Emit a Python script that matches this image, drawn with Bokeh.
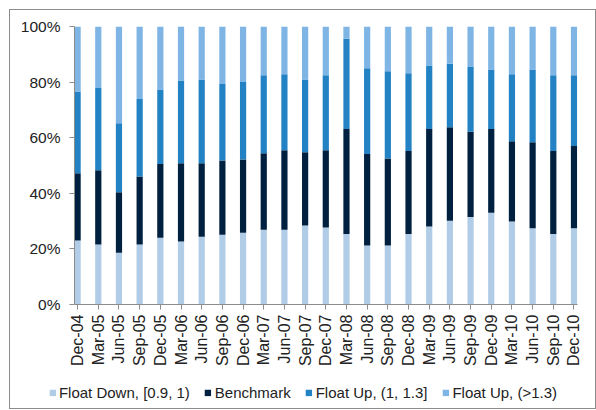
import math
from bokeh.plotting import figure
from bokeh.layouts import column, row
from bokeh.models import (Range1d, FixedTicker, PrintfTickFormatter,
                          Legend, LegendItem, ColumnDataSource)
from bokeh.embed import file_html
from bokeh.resources import INLINE

categories = ["Dec-04", "Mar-05", "Jun-05", "Sep-05", "Dec-05", "Mar-06", "Jun-06",
              "Sep-06", "Dec-06", "Mar-07", "Jun-07", "Sep-07", "Dec-07", "Mar-08",
              "Jun-08", "Sep-08", "Dec-08", "Mar-09", "Jun-09", "Sep-09", "Dec-09",
              "Mar-10", "Jun-10", "Sep-10", "Dec-10"]

# cumulative tops (%)
top_float_down = [23.0, 21.6, 18.6, 21.6, 24.0, 22.7, 24.4, 25.1, 25.8, 26.9, 26.9, 28.4, 27.7,
                  25.4, 21.2, 21.2, 25.4, 28.1, 30.1, 31.5, 33.0, 29.9, 27.4, 25.4, 27.4]
top_benchmark = [47.2, 48.3, 40.4, 46.0, 50.5, 50.8, 50.8, 51.8, 52.2, 54.4, 55.5, 54.8, 55.5,
                 63.1, 54.1, 52.5, 55.2, 63.1, 63.8, 62.1, 63.1, 58.7, 58.4, 55.2, 57.0]
top_float_up = [76.6, 77.9, 65.2, 73.9, 77.3, 80.6, 80.9, 79.3, 80.0, 82.5, 82.8, 80.9, 82.5,
                95.6, 85.0, 83.9, 83.2, 86.0, 86.6, 85.6, 84.5, 82.8, 84.5, 82.5, 82.5]

float_down = top_float_down
benchmark = [b - a for a, b in zip(top_float_down, top_benchmark)]
float_up = [c - b for b, c in zip(top_benchmark, top_float_up)]
float_up_high = [100 - c for c in top_float_up]

series_names = ["Float Down, [0.9, 1)", "Benchmark", "Float Up, (1, 1.3]", "Float Up, (>1.3)"]
colors = ["#B0CCE6", "#00203F", "#2282C4", "#7EB5E5"]
keys = ["fd", "bm", "fu", "fh"]

idx = list(range(len(categories)))
bar_x = [i + 0.15 for i in idx]
source = ColumnDataSource(data=dict(
    x=bar_x, fd=float_down, bm=benchmark, fu=float_up, fh=float_up_high))

AXIS = "#8c8c8c"
TXT = "#222222"
FONT = "Liberation Sans"

p = figure(width=585, height=366, x_range=Range1d(0, 24.32), y_range=Range1d(0, 100),
           output_backend="svg", toolbar_location=None,
           min_border_left=64, min_border_right=18, min_border_top=16, min_border_bottom=72)
p.outline_line_color = None
p.grid.visible = False

p.vbar_stack(keys, x="x", width=0.3, source=source, color=colors, line_width=0)

# y axis
ya = p.yaxis[0]
ya.ticker = FixedTicker(ticks=[0, 20, 40, 60, 80, 100])
ya.formatter = PrintfTickFormatter(format="%d%%")
ya.axis_line_color = AXIS
ya.major_tick_line_color = AXIS
ya.minor_tick_line_color = None
ya.major_tick_out = 5
ya.major_tick_in = 0
ya.major_label_standoff = 9
ya.major_label_text_font = FONT
ya.major_label_text_font_size = "15.5px"
ya.major_label_text_color = TXT

# x axis
xa = p.xaxis[0]
xa.ticker = FixedTicker(ticks=bar_x)
xa.major_label_overrides = {t: c for t, c in zip(bar_x, categories)}
xa.major_label_orientation = math.pi / 2
xa.major_label_standoff = 5
xa.major_tick_out = 5
xa.major_tick_in = 0
xa.axis_line_color = AXIS
xa.major_tick_line_color = AXIS
xa.minor_tick_line_color = None
xa.major_label_text_font = FONT
xa.major_label_text_font_size = "16px"
xa.major_label_text_color = TXT

# legend in its own strip below the chart
pl = figure(width=585, height=32, x_range=Range1d(1000, 1001), y_range=Range1d(1000, 1001),
            output_backend="svg", toolbar_location=None,
            x_axis_location=None, y_axis_location=None,
            min_border_left=0, min_border_right=0, min_border_top=0, min_border_bottom=0)
pl.outline_line_color = None
pl.grid.visible = False
leg_renderers = pl.vbar_stack(keys, x="x", width=0.3, source=source, color=colors, line_width=0)

legend = Legend(items=[LegendItem(label=n, renderers=[r]) for n, r in zip(series_names, leg_renderers)],
                orientation="horizontal", location="center",
                glyph_width=8, glyph_height=8, label_standoff=3, spacing=14,
                padding=4, margin=0, border_line_color=None, background_fill_alpha=0,
                label_text_font=FONT, label_text_font_size="15px",
                label_text_color=TXT)
pl.add_layout(legend, "center")

layout = column(p, row(pl), spacing=0,
                styles={"border": "1px solid #8c8c8c", "margin-left": "9px", "margin-top": "9px"})

open("out.html", "w").write(file_html(layout, INLINE))
